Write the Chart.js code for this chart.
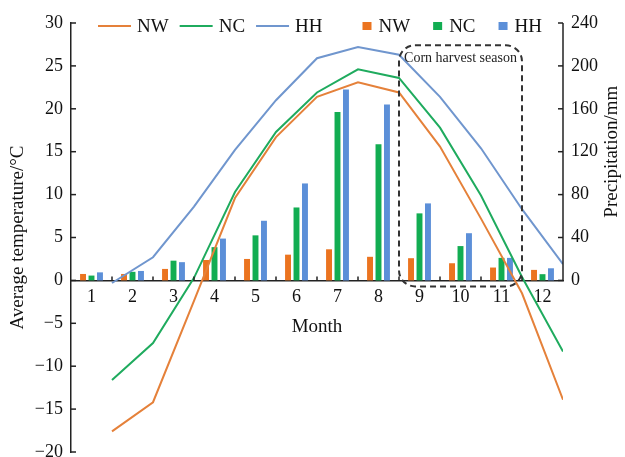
<!DOCTYPE html>
<html>
<head>
<meta charset="utf-8">
<script src="https://cdn.jsdelivr.net/npm/chart.js@4.4.1/dist/chart.umd.min.js"></script>
<style>
  body { margin: 0; background: #fff; }
  #wrap { width: 625px; height: 457px; }
</style>
</head>
<body>
<div id="wrap"><canvas id="climateChart"></canvas></div>
<script>
const monthNumbers = [1, 2, 3, 4, 5, 6, 7, 8, 9, 10, 11, 12];

// average temperature, °C (Excel drew these on the month boundaries)
const tempNW = [-17.6, -14.2, -2.4, 9.6, 16.7, 21.4, 23.1, 21.9, 15.6, 7.2, -1.5, -13.9];
const tempNC = [-11.6, -7.3, 0.3, 10.3, 17.3, 21.9, 24.6, 23.6, 17.8, 9.9, 0.4, -8.3];
const tempHH = [-0.3, 2.7, 8.6, 15.2, 21.0, 25.9, 27.2, 26.3, 21.4, 15.4, 8.3, 1.9];

// precipitation, mm
const precNW = [6, 6, 10.7, 19, 20, 24, 29, 22, 20.7, 16, 12, 9.8];
const precNC = [4.5, 8, 18.4, 31, 42, 68, 157, 127, 62.5, 32, 21, 5.8];
const precHH = [7.5, 8.8, 17, 39, 55.6, 90.4, 178, 164, 71.8, 44, 21, 11.3];

const regions = ['NW', 'NC', 'HH'];
const harvestLabel = 'Corn harvest season';
const harvestFrom = 8.5, harvestTo = 11.5;     // x values of the box edges
const harvestTop = 27.4, harvestBottom = -0.7; // °C

const serif = '"Liberation Serif", "Times New Roman", serif';
const orangeBar = '#EB7420', greenBar = '#12AD52', blueBar = '#5C8FD8';
const orangeLine = '#E5813A', greenLine = '#1FAB5E', blueLine = '#7096CE';

function minus(v) {
  return v < 0 ? '\u2212' + Math.abs(v) : String(v);
}

function toPoints(values, shift) {
  return values.map((v, i) => ({ x: monthNumbers[i] + shift, y: v }));
}

const decorations = {
  id: 'decorations',
  afterDatasetsDraw(chart) {
    const { ctx, chartArea, scales } = chart;
    const x = scales.x, y = scales.y, y2 = scales.y2;
    const zeroY = y.getPixelForValue(0);
    ctx.save();
    ctx.strokeStyle = '#222';
    ctx.lineWidth = 1.5;

    // inward ticks on left axis
    y.ticks.forEach(t => {
      const py = y.getPixelForValue(t.value);
      ctx.beginPath(); ctx.moveTo(chartArea.left, py); ctx.lineTo(chartArea.left + 5, py); ctx.stroke();
    });
    // right axis only over 0..240
    const topR = y2.getPixelForValue(240), botR = y2.getPixelForValue(0);
    ctx.beginPath(); ctx.moveTo(chartArea.right, topR); ctx.lineTo(chartArea.right, botR); ctx.stroke();
    y2.ticks.forEach(t => {
      if (t.value < 0) return;
      const py = y2.getPixelForValue(t.value);
      ctx.beginPath(); ctx.moveTo(chartArea.right, py); ctx.lineTo(chartArea.right - 5, py); ctx.stroke();
    });
    // month boundary ticks, pointing up
    for (let i = 1; i < monthNumbers.length; i++) {
      const px = x.getPixelForValue(monthNumbers[i] - 0.5);
      ctx.beginPath(); ctx.moveTo(px, zeroY); ctx.lineTo(px, zeroY - 4); ctx.stroke();
    }

    // harvest season box
    const bx0 = x.getPixelForValue(harvestFrom), bx1 = x.getPixelForValue(harvestTo);
    const by0 = y.getPixelForValue(harvestTop), by1 = y.getPixelForValue(harvestBottom);
    const r = 16;
    ctx.setLineDash([6, 4]);
    ctx.lineWidth = 2;
    ctx.strokeStyle = '#333';
    ctx.beginPath();
    ctx.moveTo(bx0 + r, by0);
    ctx.lineTo(bx1 - r, by0);
    ctx.arcTo(bx1, by0, bx1, by0 + r, r);
    ctx.lineTo(bx1, by1 - r);
    ctx.arcTo(bx1, by1, bx1 - r, by1, r);
    ctx.lineTo(bx0 + r, by1);
    ctx.arcTo(bx0, by1, bx0, by1 - r, r);
    ctx.lineTo(bx0, by0 + r);
    ctx.arcTo(bx0, by0, bx0 + r, by0, r);
    ctx.closePath();
    ctx.stroke();
    ctx.setLineDash([]);
    ctx.fillStyle = '#222';
    ctx.font = '14px ' + serif;
    ctx.textAlign = 'center';
    ctx.textBaseline = 'middle';
    ctx.fillText(harvestLabel, (bx0 + bx1) / 2, by0 + 13);

    // right axis title
    ctx.save();
    ctx.translate(chartArea.right + 49, (topR + botR) / 2);
    ctx.rotate(-Math.PI / 2);
    ctx.font = '19px ' + serif;
    ctx.fillStyle = '#111';
    ctx.fillText('Precipitation/mm', 0, 0);
    ctx.restore();

    // legend
    ctx.font = '19px ' + serif;
    ctx.textAlign = 'left';
    ctx.fillStyle = '#111';
    const ly = chartArea.top + 3;
    let lx = chartArea.left + 27;
    const lineSets = chart.data.datasets.filter(d => d.type === 'line');
    const barSets = chart.data.datasets.filter(d => d.type === 'bar');
    lineSets.forEach(d => {
      ctx.strokeStyle = d.borderColor; ctx.lineWidth = 2;
      ctx.beginPath(); ctx.moveTo(lx, ly); ctx.lineTo(lx + 33, ly); ctx.stroke();
      lx += 39;
      ctx.fillText(d.label, lx, ly + 1);
      lx += ctx.measureText(d.label).width + 11;
    });
    lx += 29;
    barSets.forEach(d => {
      ctx.fillStyle = d.backgroundColor;
      ctx.fillRect(lx, ly - 4, 9, 8);
      lx += 16;
      ctx.fillStyle = '#111';
      ctx.fillText(d.label, lx, ly + 1);
      lx += ctx.measureText(d.label).width + 23;
    });
    ctx.restore();
  }
};

new Chart(document.getElementById('climateChart'), {
  data: {
    datasets: [
      { type: 'line', label: regions[0], data: toPoints(tempNW, 0.5), yAxisID: 'y', borderColor: orangeLine, borderWidth: 2, pointRadius: 0, tension: 0 },
      { type: 'line', label: regions[1], data: toPoints(tempNC, 0.5), yAxisID: 'y', borderColor: greenLine, borderWidth: 2, pointRadius: 0, tension: 0 },
      { type: 'line', label: regions[2], data: toPoints(tempHH, 0.5), yAxisID: 'y', borderColor: blueLine, borderWidth: 2, pointRadius: 0, tension: 0 },
      { type: 'bar', label: regions[0], data: toPoints(precNW, 0), yAxisID: 'y2', backgroundColor: orangeBar },
      { type: 'bar', label: regions[1], data: toPoints(precNC, 0), yAxisID: 'y2', backgroundColor: greenBar },
      { type: 'bar', label: regions[2], data: toPoints(precHH, 0), yAxisID: 'y2', backgroundColor: blueBar }
    ]
  },
  options: {
    responsive: true,
    maintainAspectRatio: false,
    animation: false,
    datasets: { bar: { categoryPercentage: 0.62, barPercentage: 0.7 } },
    layout: { padding: { top: 23, bottom: 5, left: 0, right: 0 } },
    plugins: { legend: { display: false }, tooltip: { enabled: false } },
    scales: {
      x: {
        type: 'linear',
        position: { y: 0 },
        min: 0.5,
        max: 12.5,
        offset: false,
        grid: { display: false, drawTicks: false, offset: false },
        border: { display: true, color: '#222', width: 1.5 },
        afterBuildTicks: s => { s.ticks = monthNumbers.map(v => ({ value: v })); },
        ticks: {
          color: '#111',
          padding: 6,
          font: { family: serif, size: 18 },
          callback: v => String(v)
        },
        title: { display: true, text: 'Month', color: '#111', padding: { top: 2, bottom: 0 }, font: { family: serif, size: 19 } }
      },
      y: {
        position: 'left',
        min: -20,
        max: 30,
        grid: { display: false, drawTicks: false },
        border: { display: true, color: '#222', width: 1.5 },
        ticks: { stepSize: 5, color: '#111', padding: 8, font: { family: serif, size: 18 }, callback: v => minus(v) },
        title: { display: true, text: 'Average temperature/°C', color: '#111', padding: { top: 7, bottom: 0 }, font: { family: serif, size: 19 } },
        afterFit: s => { s.width = 71; s.paddingBottom = 0; }
      },
      y2: {
        position: 'right',
        min: -160,
        max: 240,
        grid: { display: false, drawTicks: false },
        border: { display: false },
        ticks: { stepSize: 40, color: '#111', padding: 8, font: { family: serif, size: 18 }, callback: v => (v < 0 ? null : String(v)) },
        afterFit: s => { s.width = 62; s.paddingBottom = 0; }
      }
    }
  },
  plugins: [decorations]
});
</script>
</body>
</html>
